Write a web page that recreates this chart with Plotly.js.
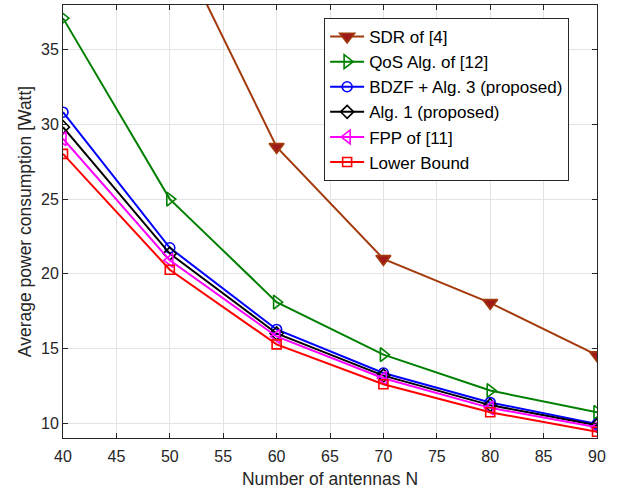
<!DOCTYPE html>
<html><head><meta charset="utf-8">
<script src="https://cdn.plot.ly/plotly-3.0.1.min.js"></script>
<style>html,body{margin:0;padding:0;background:#fff}#c{width:621px;height:494px}</style>
</head><body><div id="c"></div>
<script>
var antennas = [40, 50, 60, 70, 80, 90];
var sdr  = [68.0, 43.1, 28.5, 21.0, 18.05, 14.55];
var qos  = [37.12, 25.0, 18.1, 14.58, 12.18, 10.72];
var bdzf = [30.82, 21.74, 16.27, 13.35, 11.38, 9.93];
var alg1 = [29.82, 21.35, 16.0, 13.18, 11.2, 9.85];
var fpp  = [29.04, 20.9, 15.8, 13.0, 11.02, 9.72];
var lb   = [28.03, 20.27, 15.27, 12.6, 10.72, 9.42];
var names = ['SDR of [4]', 'QoS Alg. of [12]', 'BDZF + Alg. 3 (proposed)', 'Alg. 1 (proposed)', 'FPP of [11]', 'Lower Bound'];
var xTicks = [40, 45, 50, 55, 60, 65, 70, 75, 80, 85, 90];
var yTicks = [10, 15, 20, 25, 30, 35];

function tr(y, name, color, sym, size, fill) {
  return {x: antennas, y: y, name: name, mode: 'lines+markers', type: 'scatter', cliponaxis: true,
    line: {color: color, width: 2},
    marker: {symbol: sym, size: size, color: fill || color, line: {color: color, width: 1.6}}};
}
var data = [
  tr(sdr, names[0], '#A33A0C', 'triangle-down', 13, '#9E1A1A'),
  tr(qos, names[1], '#008000', 'triangle-right-open', 12),
  tr(bdzf, names[2], '#0000FF', 'circle-open', 10),
  tr(alg1, names[3], '#000000', 'diamond-open', 10),
  tr(fpp, names[4], '#FF00FF', 'triangle-left-open', 12),
  tr(lb, names[5], '#FF0000', 'square-open', 9)
];
var F = 'Liberation Sans, Arial, sans-serif';
var ax = {showline: true, linecolor: '#262626', linewidth: 1, mirror: 'ticks', ticks: 'inside', ticklen: 5,
  tickcolor: '#262626', showgrid: true, gridcolor: '#E3E3E3', gridwidth: 1, zeroline: false,
  tickfont: {family: F, size: 16, color: '#262626'}};
var layout = {
  width: 621, height: 494,
  margin: {l: 63, r: 24, t: 5, b: 56},
  paper_bgcolor: '#fff', plot_bgcolor: '#fff',
  showlegend: true,
  xaxis: Object.assign({}, ax, {range: [40, 90], tickvals: xTicks, ticklabelstandoff: 4,
    title: {text: 'Number of antennas N', standoff: 8, font: {family: F, size: 17.5, color: '#262626'}}}),
  yaxis: Object.assign({}, ax, {range: [9, 38], tickvals: yTicks,
    title: {text: 'Average power consumption [Watt]', standoff: 4, font: {family: F, size: 17.5, color: '#262626'}}}),
  legend: {x: 0.489, y: 0.97, xanchor: 'left', yanchor: 'top', bgcolor: '#fff', bordercolor: '#262626', borderwidth: 1,
    font: {family: F, size: 17, color: '#000'}, tracegroupgap: 0, itemwidth: 34}
};
Plotly.newPlot('c', data, layout, {staticPlot: true, displayModeBar: false});
</script></body></html>
